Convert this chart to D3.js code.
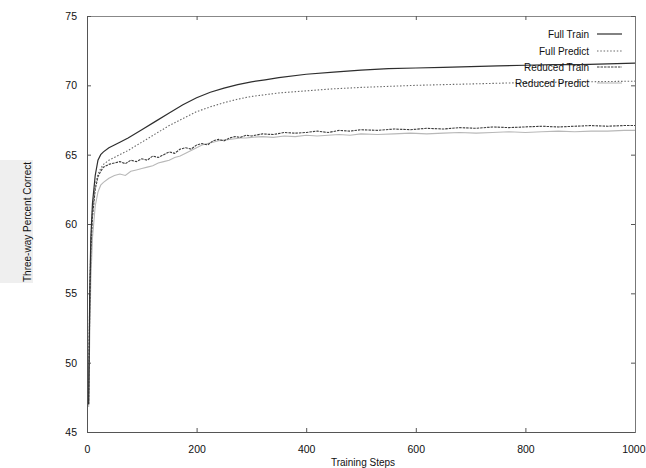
<!DOCTYPE html>
<html>
<head>
<meta charset="utf-8">
<script src="https://cdn.jsdelivr.net/npm/d3@7"></script>
<style>
  body { margin: 0; background: #fff; }
  svg { display: block; font-family: "Liberation Sans", Arial, Helvetica, sans-serif; }
</style>
</head>
<body>
<svg id="chart" width="646" height="468"></svg>
<script>
// ---- data ----
const seriesNames = ["Full Train", "Full Predict", "Reduced Train", "Reduced Predict"];

const fullTrainSteps = [3,5,7,10,15,20,25,30,40,50,60,75,100,125,150,175,200,225,250,275,300,325,350,400,450,500,550,600,650,700,750,800,850,900,950,1000];
const fullTrainValues = [47,55,59,61.5,63.5,64.6,65.0,65.2,65.5,65.7,65.9,66.2,66.8,67.4,68.0,68.6,69.1,69.5,69.8,70.05,70.25,70.4,70.55,70.8,70.95,71.1,71.2,71.25,71.3,71.35,71.4,71.45,71.5,71.5,71.55,71.6];

const fullPredictSteps = [3,5,7,10,15,20,25,30,40,50,75,100,125,150,175,200,225,250,275,300,350,400,450,500,600,700,800,900,1000];
const fullPredictValues = [48,55,58.5,61,62.8,63.6,64.0,64.3,64.6,64.8,65.3,65.9,66.5,67.1,67.6,68.1,68.45,68.75,69.0,69.2,69.45,69.6,69.75,69.85,70.0,70.1,70.2,70.25,70.3];

const reducedSteps = [3,5,7,10,15,20,25,30,40,50,60,70,80,90,100,110,120,130,140,150,160,170,180,190,200,210,220,230,240,250,260,270,280,290,300,320,340,360,380,400,420,440,460,480,500,530,560,590,620,650,680,710,740,770,800,830,860,890,920,950,980,1000];
const reducedTrainValues = [47,54,58,60.5,62.5,63.4,63.8,64.1,64.3,64.4,64.5,64.35,64.6,64.5,64.7,64.6,64.9,64.8,65.0,65.2,65.1,65.4,65.5,65.4,65.7,65.8,65.7,66.0,66.1,66.0,66.2,66.3,66.25,66.4,66.35,66.5,66.45,66.6,66.55,66.6,66.7,66.6,66.75,66.7,66.8,66.75,66.85,66.8,66.9,66.85,66.95,66.9,67.0,66.95,67.0,67.05,67.0,67.05,67.1,67.05,67.1,67.1];
const reducedPredictValues = [46.8,52,56,59,61.3,62.3,62.8,63.0,63.3,63.5,63.6,63.5,63.8,63.9,64.0,64.1,64.2,64.4,64.5,64.6,64.8,64.9,65.1,65.3,65.5,65.7,65.8,65.9,66.0,66.05,66.1,66.15,66.2,66.2,66.25,66.3,66.25,66.35,66.3,66.4,66.35,66.4,66.45,66.4,66.5,66.45,66.5,66.55,66.5,66.55,66.6,66.55,66.6,66.65,66.6,66.65,66.7,66.65,66.7,66.7,66.75,66.75];

const xTicks = [0,200,400,600,800,1000];
const yTicks = [45,50,55,60,65,70,75];

// ---- layout ----
const svg = d3.select("#chart");
const L = 87, R = 635, T = 16, B = 432;
const x = d3.scaleLinear().domain([0,1000]).range([L,R]);
const y = d3.scaleLinear().domain([45,75]).range([B,T]);

const styles = [
  {stroke:"#2e2e2e", width:1.2, dash:null},
  {stroke:"#6a6a6a", width:1.1, dash:"1.5,1.8"},
  {stroke:"#3c3c3c", width:1.1, dash:"2.5,1"},
  {stroke:"#b8b8b8", width:1.1, dash:null}
];

// y-axis label background (scan artifact)
svg.append("rect").attr("x",0).attr("y",160).attr("width",33).attr("height",123).attr("fill","#efefef");

// axes via d3
const gx = svg.append("g").attr("transform",`translate(0,${B})`)
  .call(d3.axisBottom(x).tickValues(xTicks).tickSize(-4).tickPadding(14).tickFormat(d3.format("d")));
const gxTop = svg.append("g").attr("transform",`translate(0,${T})`)
  .call(d3.axisTop(x).tickValues(xTicks).tickSize(-4).tickFormat(""));
const gy = svg.append("g").attr("transform",`translate(${L},0)`)
  .call(d3.axisLeft(y).tickValues(yTicks).tickSize(-4).tickPadding(10).tickFormat(d3.format("d")));
const gyR = svg.append("g").attr("transform",`translate(${R},0)`)
  .call(d3.axisRight(y).tickValues(yTicks).tickSize(-4).tickFormat(""));

[gx,gxTop,gy,gyR].forEach(g=>{
  g.select(".domain").attr("stroke","#555").attr("stroke-width",1);
  g.selectAll(".tick line").attr("stroke","#555");
  g.selectAll("text").attr("fill","#111").attr("font-size",10.5)
   .attr("font-family","'Liberation Sans', Arial, sans-serif");
});
gxTop.select(".domain").attr("stroke","#888");
gyR.select(".domain").attr("stroke","#777");
// keep the last x label inside the picture, as in the reference
gx.selectAll(".tick text").filter(d=>d===1000).attr("text-anchor","end").attr("dx",10);

// axis titles
svg.append("text").attr("x",363).attr("y",466).attr("text-anchor","middle")
  .attr("font-size",10).attr("fill","#111").text("Training Steps");
svg.append("text").attr("transform","translate(31,222) rotate(-90)").attr("text-anchor","middle")
  .attr("font-size",10).attr("fill","#111").text("Three-way Percent Correct");

// series lines
const series = [
  {name:seriesNames[0], steps:fullTrainSteps, values:fullTrainValues},
  {name:seriesNames[1], steps:fullPredictSteps, values:fullPredictValues},
  {name:seriesNames[2], steps:reducedSteps, values:reducedTrainValues},
  {name:seriesNames[3], steps:reducedSteps, values:reducedPredictValues}
];
const line = d3.line().x(d=>x(d[0])).y(d=>y(d[1]));
// draw lower ones first
[3,2,1,0].forEach(i=>{
  const s = series[i], st = styles[i];
  svg.append("path").datum(d3.zip(s.steps,s.values))
    .attr("fill","none").attr("stroke",st.stroke).attr("stroke-width",st.width)
    .attr("stroke-dasharray",st.dash).attr("d",line);
});

// legend
const legY = [34,51,67,83];
seriesNames.forEach((n,i)=>{
  svg.append("text").attr("x",589).attr("y",legY[i]+3.5).attr("text-anchor","end")
    .attr("font-size",10).attr("fill","#111").text(n);
  const st = styles[i];
  svg.append("line").attr("x1",597).attr("x2",622).attr("y1",legY[i]).attr("y2",legY[i])
    .attr("stroke",st.stroke).attr("stroke-width",st.width).attr("stroke-dasharray",st.dash);
});
</script>
</body>
</html>
